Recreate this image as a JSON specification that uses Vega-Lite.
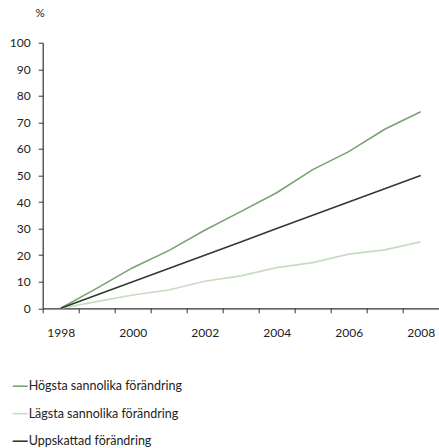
{
  "$schema": "https://vega.github.io/schema/vega-lite/v6.json",
  "width": 396,
  "height": 265.6,
  "autosize": "none",
  "padding": {"left": 42.7, "top": 42.7, "right": 0, "bottom": 139.7},
  "background": "white",
  "config": {
    "view": {"stroke": null},
    "font": "Lato"
  },
  "data": {
    "values": [
      {"year": 1998, "serie": "Högsta sannolika förändring", "value": 0},
      {"year": 1999, "serie": "Högsta sannolika förändring", "value": 7.5},
      {"year": 2000, "serie": "Högsta sannolika förändring", "value": 15.3},
      {"year": 2001, "serie": "Högsta sannolika förändring", "value": 21.7},
      {"year": 2002, "serie": "Högsta sannolika förändring", "value": 29.4},
      {"year": 2003, "serie": "Högsta sannolika förändring", "value": 36.4},
      {"year": 2004, "serie": "Högsta sannolika förändring", "value": 43.5},
      {"year": 2005, "serie": "Högsta sannolika förändring", "value": 52.2},
      {"year": 2006, "serie": "Högsta sannolika förändring", "value": 59.0},
      {"year": 2007, "serie": "Högsta sannolika förändring", "value": 67.4},
      {"year": 2008, "serie": "Högsta sannolika förändring", "value": 74.0},
      {"year": 1998, "serie": "Lägsta sannolika förändring", "value": 0},
      {"year": 1999, "serie": "Lägsta sannolika förändring", "value": 2.5},
      {"year": 2000, "serie": "Lägsta sannolika förändring", "value": 5.0},
      {"year": 2001, "serie": "Lägsta sannolika förändring", "value": 6.9},
      {"year": 2002, "serie": "Lägsta sannolika förändring", "value": 10.2},
      {"year": 2003, "serie": "Lägsta sannolika förändring", "value": 12.2},
      {"year": 2004, "serie": "Lägsta sannolika förändring", "value": 15.3},
      {"year": 2005, "serie": "Lägsta sannolika förändring", "value": 17.2},
      {"year": 2006, "serie": "Lägsta sannolika förändring", "value": 20.4},
      {"year": 2007, "serie": "Lägsta sannolika förändring", "value": 22.0},
      {"year": 2008, "serie": "Lägsta sannolika förändring", "value": 25.0},
      {"year": 1998, "serie": "Uppskattad förändring", "value": 0},
      {"year": 1999, "serie": "Uppskattad förändring", "value": 5},
      {"year": 2000, "serie": "Uppskattad förändring", "value": 10},
      {"year": 2001, "serie": "Uppskattad förändring", "value": 15},
      {"year": 2002, "serie": "Uppskattad förändring", "value": 20},
      {"year": 2003, "serie": "Uppskattad förändring", "value": 25},
      {"year": 2004, "serie": "Uppskattad förändring", "value": 30},
      {"year": 2005, "serie": "Uppskattad förändring", "value": 35},
      {"year": 2006, "serie": "Uppskattad förändring", "value": 40},
      {"year": 2007, "serie": "Uppskattad förändring", "value": 45},
      {"year": 2008, "serie": "Uppskattad förändring", "value": 50}
    ]
  },
  "mark": {"type": "line", "strokeWidth": 1.6},
  "encoding": {
    "x": {
      "field": "year",
      "type": "quantitative",
      "scale": {"domain": [1997.5, 2008.5], "nice": false, "zero": false},
      "axis": {
        "title": null,
        "values": [1997.5, 1998.5, 1999.5, 2000.5, 2001.5, 2002.5, 2003.5, 2004.5, 2005.5, 2006.5, 2007.5],
        "labelExpr": "(datum.value + 0.5) % 2 == 0 ? format(datum.value + 0.5, 'd') : ''",
        "labelOffset": 18,
        "labelAngle": 0,
        "labelAlign": "center",
        "labelFlush": false,
        "labelOverlap": false,
        "grid": false,
        "domainColor": "#333333",
        "domainWidth": 1.2,
        "tickColor": "#333333",
        "tickSize": 4.5,
        "labelFontSize": 12,
        "labelColor": "#222222",
        "labelPadding": 15
      }
    },
    "y": {
      "field": "value",
      "type": "quantitative",
      "scale": {"domain": [0, 100], "nice": false},
      "axis": {
        "values": [0, 10, 20, 30, 40, 50, 60, 70, 80, 90, 100],
        "grid": false,
        "title": "%",
        "titleAngle": 0,
        "titleX": -3,
        "titleY": -29,
        "titleAlign": "center",
        "titleBaseline": "middle",
        "titleFontSize": 11.5,
        "titleFontWeight": "normal",
        "titleColor": "#222222",
        "domainColor": "#333333",
        "domainWidth": 1.2,
        "tickColor": "#333333",
        "tickSize": 4.5,
        "labelFontSize": 12,
        "labelColor": "#222222",
        "labelPadding": 8
      }
    },
    "color": {
      "field": "serie",
      "type": "nominal",
      "scale": {
        "domain": ["Högsta sannolika förändring", "Lägsta sannolika förändring", "Uppskattad förändring"],
        "range": ["#7aa273", "#c8dcc3", "#2b3d2b"]
      },
      "legend": {
        "title": null,
        "orient": "none",
        "legendX": -31,
        "legendY": 335,
        "direction": "vertical",
        "symbolType": "stroke",
        "symbolSize": 225,
        "symbolStrokeWidth": 1.6,
        "labelFontSize": 12.5,
        "labelColor": "#222222",
        "labelOffset": 0,
        "rowPadding": 12.5
      }
    }
  }
}
